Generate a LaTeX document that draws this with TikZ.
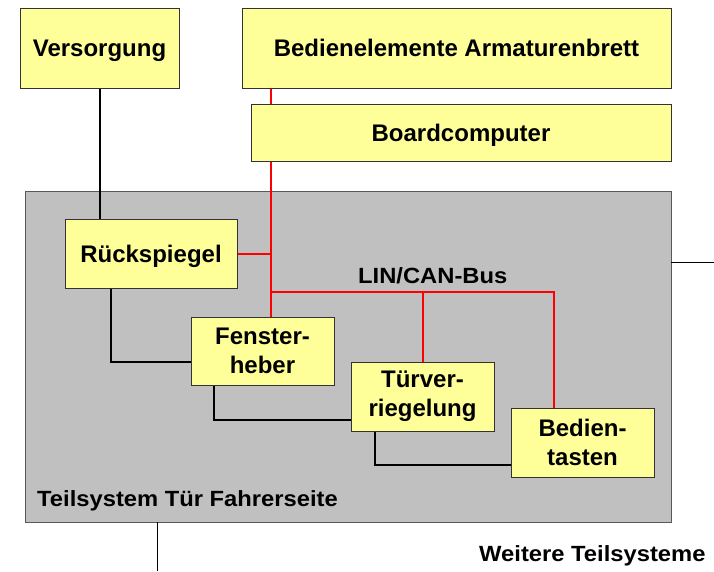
\documentclass[tikz,border=0pt]{standalone}
\usepackage{fontspec}
\setmainfont{Liberation Sans}
\newfontfamily\lblfont[FakeStretch=1.08]{Liberation Sans}
\usetikzlibrary{calc}
\pgfdeclarelayer{back}
\pgfdeclarelayer{lines}
\pgfsetlayers{back,lines,main}
\definecolor{yfill}{HTML}{FFFF99}
\definecolor{gfill}{HTML}{C0C0C0}
\definecolor{busred}{HTML}{FF0000}
\begin{document}
\begin{tikzpicture}[x=1pt,y=-1pt,
  ybox/.style={draw=black!80, line width=0.9pt, fill=yfill, inner sep=0pt,
    font=\fontsize{24}{29}\selectfont\bfseries, align=center},
  oneline/.style={text height=17pt, text depth=0pt},
  greybox/.style={draw=black!65, line width=0.9pt, fill=gfill, inner sep=0pt},
  redline/.style={draw=busred, line width=2pt},
  blkline/.style={draw=black, line width=2pt},
  thinline/.style={draw=black, line width=0.8pt},
  lbl/.style={inner sep=0pt, font=\lblfont\fontsize{22}{26}\selectfont\bfseries}]
\useasboundingbox (0,0) rectangle (714,571);

\begin{pgfonlayer}{back}
  \node[greybox, minimum width=646pt, minimum height=331pt] (sub) at (348,356.5) {};
\end{pgfonlayer}

\node[ybox, oneline, minimum width=159pt, minimum height=80pt] (vers) at (99.5,48) {Versorgung};
\node[ybox, oneline, minimum width=429pt, minimum height=80pt] (bed) at (456.5,48) {Bedienelemente Armaturenbrett};
\node[ybox, oneline, minimum width=420pt, minimum height=57pt] (bc) at (461,133) {Boardcomputer};
\node[ybox, oneline, minimum width=172pt, minimum height=69pt] (rueck) at (151,253.5) {Rückspiegel};
\node[ybox, minimum width=143pt, minimum height=68pt] (fen) at (262.5,351) {Fenster-\\heber};
\node[ybox, minimum width=143pt, minimum height=69pt] (tv) at (422.5,396.5) {Türver-\\riegelung};
\node[ybox, minimum width=143pt, minimum height=69pt] (bt) at (582.5,442.5) {Bedien-\\tasten};

\node[lbl, anchor=base west] (bus) at (358,283.5) {LIN/CAN-Bus};
\node[lbl, anchor=base west] (ts) at (37,506.5) {Teilsystem Tür Fahrerseite};
\node[lbl, anchor=base west] (wt) at (479,561) {Weitere Teilsysteme};

\coordinate (bx) at (270.5,0);
\coordinate (by) at (0,292);
\coordinate (rx) at (554,0);
\coordinate (k1) at (111,362);
\coordinate (k2) at (213.5,419.5);
\coordinate (k3) at (375,465);
\coordinate (rl) at (714,262);
\coordinate (bl) at (157.5,571);

\begin{pgfonlayer}{lines}
  \draw[redline] (bed.south -| bx) -- (fen.north -| bx);
  \draw[redline] (rueck.east) -- (rueck.east -| bx);
  \draw[redline] (bx |- by) -- (rx |- by) -- (bt.north -| rx);
  \draw[redline] (tv.north) -- (tv.north |- by);
  \draw[blkline] (vers.south) -- (rueck.north -| vers.south);
  \draw[blkline] (rueck.south -| k1) |- (fen.west |- k1);
  \draw[blkline] (fen.south -| k2) |- (tv.west |- k2);
  \draw[blkline] (tv.south -| k3) |- (bt.west |- k3);
  \draw[thinline] (sub.east |- rl) -- (rl);
  \draw[thinline] (sub.south -| bl) -- (bl);
\end{pgfonlayer}
\end{tikzpicture}
\end{document}
